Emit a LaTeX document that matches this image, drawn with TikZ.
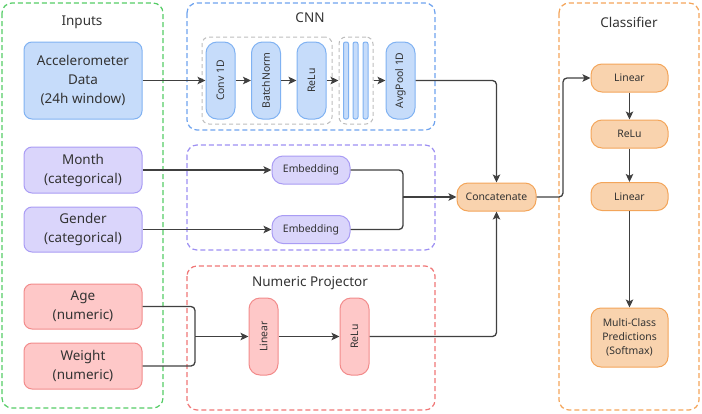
\documentclass[tikz,border=0pt]{standalone}
\usepackage{fontspec}
\setmainfont{Noto Sans}
\usetikzlibrary{arrows.meta}
\definecolor{txt}{HTML}{333333}
\definecolor{ln}{HTML}{404040}
\definecolor{bfill}{HTML}{C6DCFA}\definecolor{bdraw}{HTML}{80B2F2}
\definecolor{pfill}{HTML}{DAD5FB}\definecolor{pdraw}{HTML}{A99CF4}
\definecolor{rfill}{HTML}{FEC8C8}\definecolor{rdraw}{HTML}{F28B8B}
\definecolor{ofill}{HTML}{F9D3AE}\definecolor{odraw}{HTML}{F3A55A}
\definecolor{gdash}{HTML}{55CC66}\definecolor{bdash}{HTML}{6FA3EE}
\definecolor{pdash}{HTML}{9D8FF2}\definecolor{rdash}{HTML}{F07777}
\definecolor{odash}{HTML}{F4A55A}\definecolor{graydash}{HTML}{BDBDBD}
\newcommand{\bigf}{\fontsize{13.5}{19}\selectfont}
\newcommand{\smallf}{\fontsize{10.4}{14}\selectfont}
\tikzset{
  base/.style={draw, line width=1pt, inner sep=0pt, align=center, text=txt},
  bignode/.style={base, rounded corners=8pt, minimum width=118pt, font=\bigf},
  pill/.style={base, rounded corners=11pt, minimum width=78pt, minimum height=28pt, font=\smallf},
  vpill/.style={base, rotate=90, rounded corners=11pt, minimum width=77pt, minimum height=29pt, font=\smallf},
  bar/.style={base, rounded corners=2pt, minimum width=5pt, minimum height=77pt},
  blue/.style={fill=bfill, draw=bdraw},
  purp/.style={fill=pfill, draw=pdraw},
  red/.style={fill=rfill, draw=rdraw},
  orng/.style={fill=ofill, draw=odraw},
  grp/.style={line width=1.2pt, dash pattern=on 5pt off 3pt, rounded corners=10pt},
  gbox/.style={draw=graydash, line width=1pt, dash pattern=on 4pt off 3pt, rounded corners=7pt, inner sep=0pt},
  title/.style={font=\fontsize{13.5}{16}\selectfont, text=txt},
  arr/.style={draw=ln, line width=1.3pt, rounded corners=4pt, -{Stealth[length=8pt,width=7.5pt,inset=1.8pt]}},
  ln/.style={draw=ln, line width=1.3pt, rounded corners=4pt},
}
\begin{document}
\begin{tikzpicture}[x=1pt,y=-1pt]
\useasboundingbox (0,0) rectangle (702,413);
% groups
\draw[grp, draw=gdash] (2,3) rectangle (163,408);
\draw[grp, draw=bdash] (187,3) rectangle (435,130);
\draw[grp, draw=pdash] (187,145) rectangle (435,250);
\draw[grp, draw=rdash] (187,266) rectangle (435,410);
\draw[grp, draw=odash] (559,3) rectangle (699,410);
\node[title] (tin) at (82,22) {Inputs};
\node[title] (tcnn) at (310,18) {CNN};
\node[title] (tnum) at (310,283) {Numeric Projector};
\node[title] (tcls) at (629,22) {Classifier};
% gray sub-boxes
\node[gbox, minimum width=130pt, minimum height=87pt] (g1) at (267,80.5) {};
\node[gbox, minimum width=34pt, minimum height=87pt] (g2) at (356,80.5) {};
% inputs
\node[bignode, blue, minimum height=77pt] (acc) at (83,80.5) {Accelerometer\\Data\\(24h window)};
\node[bignode, purp, minimum height=46pt] (month) at (83,170) {Month\\(categorical)};
\node[bignode, purp, minimum height=45pt] (gender) at (83,229.5) {Gender\\(categorical)};
\node[bignode, red, minimum height=45pt] (age) at (83,306.5) {Age\\(numeric)};
\node[bignode, red, minimum height=46pt] (weight) at (83,366) {Weight\\(numeric)};
% CNN
\node[vpill, blue] (conv) at (220.5,80.5) {Conv 1D};
\node[vpill, blue] (bn) at (266,80.5) {BatchNorm};
\node[vpill, blue] (relu) at (311.5,80.5) {ReLu};
\node[bar, blue] (bar1) at (346,80.5) {};
\node[bar, blue] (bar2) at (355.5,80.5) {};
\node[bar, blue] (bar3) at (365.5,80.5) {};
\node[vpill, blue] (avg) at (400.5,80.5) {AvgPool 1D};
% embeddings
\node[pill, purp] (emb1) at (311,170) {Embedding};
\node[pill, purp] (emb2) at (311,229.5) {Embedding};
% numeric
\node[vpill, red] (lin) at (263.5,336.5) {Linear};
\node[vpill, red] (nrelu) at (354.5,336.5) {ReLu};
% concat
\node[pill, orng, minimum width=79pt] (cat) at (496.5,197) {Concatenate};
% classifier
\node[pill, orng, minimum width=77pt] (cl1) at (629.5,78) {Linear};
\node[pill, orng, minimum width=77pt] (cl2) at (629.5,134) {ReLu};
\node[pill, orng, minimum width=77pt] (cl3) at (629.5,196.5) {Linear};
\node[base, orng, rounded corners=10pt, minimum width=77pt, minimum height=59pt, font=\smallf] (pred) at (629.5,337.5) {Multi-Class\\Predictions\\(Softmax)};
% junctions
\coordinate (j1) at (403,197);
\coordinate (j2) at (195,336.5);
\coordinate (j3) at (563,197);
% connectors
\draw[arr] (acc) -- (conv);
\draw[arr] (conv) -- (bn);
\draw[arr] (bn) -- (relu);
\draw[arr] (relu) -- (g2.west);
\draw[arr] (g2.east) -- (avg);
\draw[arr] (avg) -| (cat);
\draw[arr] (month) -- (emb1);
\draw[arr] (gender) -- (emb2);
\draw[ln] (emb1) -| (j1);
\draw[ln] (emb2) -| (j1);
\draw[arr] (j1) -- (cat);
\draw[ln] (age) -| (j2);
\draw[ln] (weight) -| (j2);
\draw[arr] (j2) -- (lin);
\draw[arr] (lin) -- (nrelu);
\draw[arr] (nrelu) -| (cat);
\draw[arr] (cat) -- (j3) |- (cl1);
\draw[arr] (cl1) -- (cl2);
\draw[arr] (cl2) -- (cl3);
\draw[arr] (cl3) -- (pred);
\end{tikzpicture}
\end{document}
